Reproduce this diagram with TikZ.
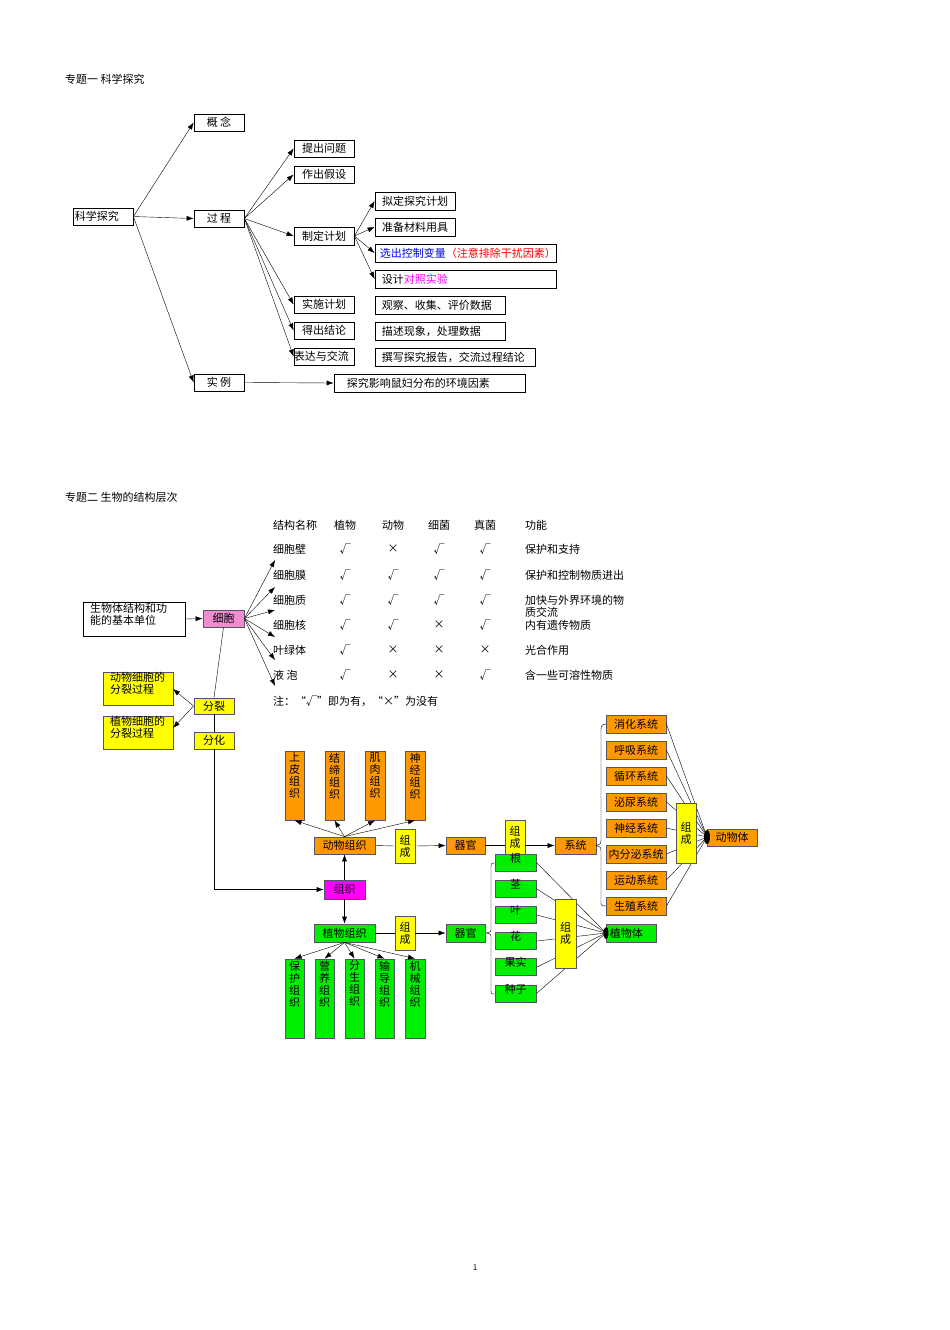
\documentclass[tikz,border=0pt]{standalone}
\usepackage{fontspec}
\setmainfont{Noto Sans CJK SC}
\usetikzlibrary{arrows.meta}
\definecolor{org}{HTML}{FF9900}
\definecolor{grn}{HTML}{00EE00}
\definecolor{yel}{HTML}{FFFF00}
\definecolor{pnk}{HTML}{F08CD0}
\definecolor{mag}{HTML}{FF00FF}
\definecolor{edge}{HTML}{555566}
\newcommand\bx[7]{\pgfmathsetmacro\bw{#4-#2}\pgfmathsetmacro\bh{#5-#3}%
\node[#6,minimum width=\bw pt,minimum height=\bh pt] (#1) at ({(#2+#4)/2},{(#3+#5)/2}) {#7};}
\newcommand\vt[1]{\node[anchor=north,inner sep=0,align=center,font=\fontsize{11}{12}\selectfont] at ([yshift=-2pt]#1.north)}
\begin{document}
\begin{tikzpicture}[x=1pt,y=-1pt,font=\fontsize{11}{12}\selectfont,
 b/.style={draw=black,thick,inner sep=0,fill=white},
 o/.style={draw=edge,thick,inner sep=0,fill=org},
 g/.style={draw=edge,thick,inner sep=0,fill=grn},
 yb/.style={draw=edge,thick,inner sep=0,fill=yel,align=center},
 ar/.style={-{Latex[length=7pt,width=5pt]},thin},
 ln/.style={thin},
 t/.style={anchor=west,inner sep=0}]
\useasboundingbox (0,0) rectangle (950,1330);
% ---------- section 1
\node[t] at (65,79) {专题一 科学探究};
\bx{kx}{73}{208}{133}{225}{b}{}\node[t] at ([xshift=2pt]kx.west){科学探究};
\bx{gn}{194}{114}{244}{131}{b}{概\ 念}
\bx{gc}{194}{210}{244}{227}{b}{过\ 程}
\bx{sl}{194}{374}{244}{391}{b}{实\ 例}
\bx{p1}{294}{140}{354}{157}{b}{提出问题}
\bx{p2}{294}{166}{354}{183}{b}{作出假设}
\bx{p3}{294}{227}{354}{245}{b}{制定计划}
\bx{p4}{294}{296}{354}{313}{b}{实施计划}
\bx{p5}{294}{322}{354}{339}{b}{得出结论}
\bx{p6}{294}{348}{354}{365}{b}{}\node[t] at (p6.west){表达与交流};
\bx{q1}{375}{192}{455}{210}{b}{拟定探究计划}
\bx{q2}{375}{218}{455}{236}{b}{准备材料用具}
\bx{q3}{375}{244}{556}{262}{b}{}\node[t] at ([xshift=5pt]q3.west){\color{blue}选出控制变量\color{red}（注意排除干扰因素）};
\bx{q4}{375}{270}{556}{288}{b}{}\node[t] at ([xshift=7pt]q4.west){设计\color{mag}对照实验};
\bx{r1}{375}{296}{505}{314}{b}{}\node[t] at ([xshift=7pt]r1.west){观察、收集、评价数据};
\bx{r2}{375}{322}{505}{340}{b}{}\node[t] at ([xshift=7pt]r2.west){描述现象，处理数据};
\bx{r3}{375}{348}{535}{366}{b}{}\node[t] at ([xshift=7pt]r3.west){撰写探究报告，交流过程结论};
\bx{ex}{334}{374}{525}{392}{b}{}\node[t] at ([xshift=13pt]ex.west){探究影响鼠妇分布的环境因素};
\draw[ar] (kx.east) -- (gn.west);
\draw[ar] (kx.east) -- (gc.west);
\draw[ar] (kx.east) -- (sl.west);
\foreach \n in {p1,p2,p3,p4,p5,p6} \draw[ar] (gc.east) -- (\n.west);
\foreach \n in {q1,q2,q3,q4} \draw[ar] (p3.east) -- (\n.west);
\draw[ar] (sl.east) -- (ex.west);
% ---------- section 2
\node[t] at (65,497) {专题二 生物的结构层次};
\foreach \txt/\yy in {结构名称/525,细胞壁/549,细胞膜/575,细胞质/600,细胞核/625,叶绿体/650,液\ 泡/675}
  \node[t] at (273,\yy) {\txt};
\foreach \a/\b/\c/\d/\yy in {植物/动物/细菌/真菌/525,√/×/√/√/549,√/√/√/√/575,√/√/√/√/600,√/√/×/√/625,√/×/×/×/650,√/×/×/√/675}{
  \node at (345,\yy) {\a};\node at (393,\yy) {\b};\node at (439,\yy) {\c};\node at (485,\yy) {\d};}
\foreach \txt/\yy in {功能/525,保护和支持/549,保护和控制物质进出/575,加快与外界环境的物/600,质交流/612,内有遗传物质/625,光合作用/650,含一些可溶性物质/675}
  \node[t] at (525,\yy) {\txt};
\node[t] at (273,701) {注：“√”即为有，“×”为没有};
\bx{jb}{83}{602}{185}{636}{b}{}
\node[anchor=north west,inner sep=0,align=left] at (90,603) {生物体结构和功\\能的基本单位};
\bx{xb}{203}{610}{244}{627}{draw=edge,thick,inner sep=0,fill=pnk}{细胞}
\draw[ar] (jb.east) -- (xb.west);
\foreach \yy in {560,587,610,637,660,686} {\coordinate (c) at (275,\yy); \draw[ar] (xb.east) -- (c);}
\bx{fl}{194}{698}{234}{714}{yb}{分裂}
\bx{fh}{194}{732}{234}{749}{yb}{分化}
\bx{d1}{103}{672}{173}{705}{draw=edge,thick,inner sep=0,fill=yel}{}
\node[anchor=north west,inner sep=0,align=left] at (110,672) {动物细胞的\\分裂过程};
\bx{d2}{103}{716}{173}{749}{draw=edge,thick,inner sep=0,fill=yel}{}
\node[anchor=north west,inner sep=0,align=left] at (110,716) {植物细胞的\\分裂过程};
\coordinate (f1) at (173,689); \coordinate (f2) at (173,728);
\draw[ar] (fl.west) -- (f1); \draw[ar] (fl.west) -- (f2);
\bx{zz}{324}{880}{365}{899}{draw=edge,thick,inner sep=0,fill=mag}{组织}
\draw[ln] (xb.south) -- (fl.north);
\draw[ln] (fl.south) -- (fh.north);
\draw[ar] (fh.south) |- (zz.west);
% animal
\bx{dz}{314}{837}{375}{854}{o}{动物组织}
\bx{a1}{285}{751}{304}{820}{o}{}\vt{a1}{上\\皮\\组\\织};
\bx{a2}{325}{751}{344}{820}{o}{}\vt{a2}{结\\缔\\组\\织};
\bx{a3}{365}{751}{385}{820}{o}{}\vt{a3}{肌\\肉\\组\\织};
\bx{a4}{405}{751}{425}{820}{o}{}\vt{a4}{神\\经\\组\\织};
\foreach \n in {a1,a2,a3,a4} \draw[ar] (dz.north) -- (\n.south);
\bx{zc1}{395}{829}{415}{863}{yb}{组\\成}
\bx{qg1}{446}{837}{485}{854}{o}{器官}
\bx{zc2}{505}{820}{525}{854}{yb}{组\\成}
\bx{xt}{555}{837}{596}{854}{o}{系统}
\draw[ln] (dz.east) -- (zc1.west); \draw[ar] (zc1.east) -- (qg1.west);
\draw[ln] (qg1.east) -- (zc2.west|-qg1.east); \draw[ar] (zc2.east|-xt.west) -- (xt.west);
\coordinate (dwp) at (707,837);
\foreach \s/\txt [count=\i from 0] in {s1/消化系统,s2/呼吸系统,s3/循环系统,s4/泌尿系统,s5/神经系统,s6/内分泌系统,s7/运动系统,s8/生殖系统}{
  \pgfmathsetmacro\ty{715+26*\i}\pgfmathsetmacro\tb{\ty+18}
  \bx{\s}{606}{\ty}{666}{\tb}{o}{\txt}
  \draw[ln] (\s.east) -- (dwp);}
\draw[ln] (606,724) .. controls (600,724) and (601,728) .. (601,735) -- (601,838) .. controls (601,844) .. (596,845.5) .. controls (601,847) .. (601,853) -- (601,899) .. controls (601,905) and (600,906) .. (606,906);
\bx{zc3}{676}{803}{696}{863}{yb}{组\\成}
\bx{dwt}{707}{829}{757}{846}{o}{动物体}
\fill (dwp) ellipse (3pt and 7pt);
% plant
\bx{zw}{314}{924}{375}{942}{g}{植物组织}
\draw[ar] (zz.north) -- (dz.south);
\draw[ar] (zz.south) -- (zw.north);
\bx{b1}{285}{959}{304}{1038}{g}{}\vt{b1}{保\\护\\组\\织};
\bx{b2}{315}{959}{334}{1038}{g}{}\vt{b2}{营\\养\\组\\织};
\bx{b3}{345}{959}{364}{1038}{g}{}\vt{b3}{分\\生\\组\\织};
\bx{b4}{375}{959}{394}{1038}{g}{}\vt{b4}{输\\导\\组\\织};
\bx{b5}{405}{959}{425}{1038}{g}{}\vt{b5}{机\\械\\组\\织};
\foreach \n in {b1,b2,b3,b4,b5} \draw[ar] (zw.south) -- (\n.north);
\bx{zc4}{395}{916}{415}{950}{yb}{组\\成}
\bx{qg2}{446}{924}{485}{942}{g}{器官}
\draw[ln] (zw.east) -- (zc4.west); \draw[ar] (zc4.east) -- (qg2.west);
\coordinate (zwp) at (606,933);
\foreach \s/\txt [count=\i from 0] in {o1/根,o2/茎,o3/叶,o4/花,o5/果实,o6/种子}{
  \pgfmathsetmacro\ty{854+26.2*\i}\pgfmathsetmacro\tb{\ty+17}
  \bx{\s}{495}{\ty}{536}{\tb}{g}{}\node[anchor=north,inner sep=0] at ([yshift=1pt]\s.north){\txt};
  \draw[ln] (\s.east) -- (zwp);}
\draw[ln] (495,863) .. controls (491,863) .. (491,868) -- (491,928) .. controls (491,932) .. (486,933) .. controls (491,934) .. (491,938) -- (491,989) .. controls (491,994) .. (495,994);
\bx{zc5}{555}{899}{576}{968}{yb}{组\\成}
\bx{zwt}{606}{924}{656}{942}{g}{}\node[t] at ([xshift=4pt]zwt.west){植物体};
\fill (zwp) ellipse (2.5pt and 6pt);
\node at (475,1268) {\fontsize{8}{9}\selectfont 1};
\end{tikzpicture}
\end{document}
